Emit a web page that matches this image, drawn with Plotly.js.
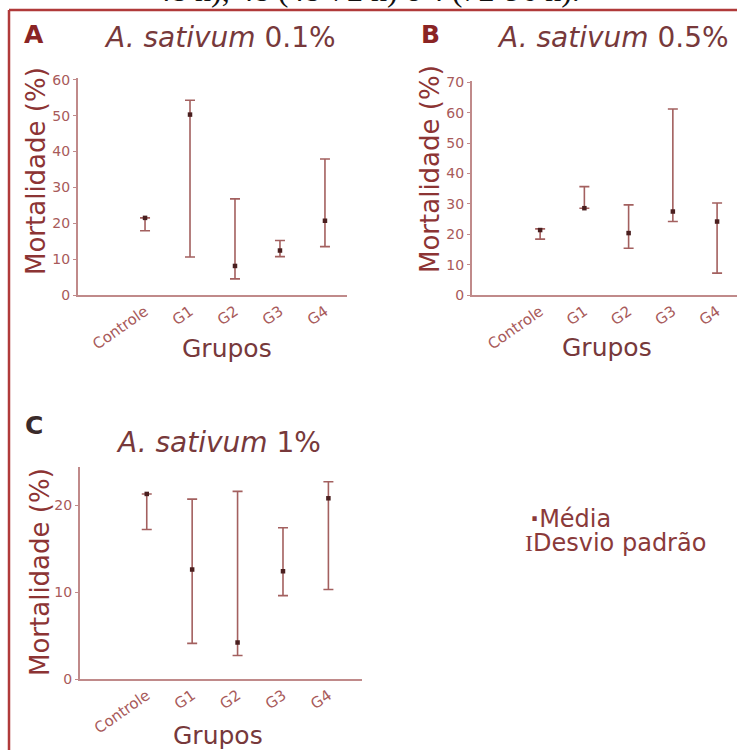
<!DOCTYPE html>
<html>
<head>
<meta charset="utf-8">
<script src="https://cdn.plot.ly/plotly-3.0.1.min.js"></script>
<style>html,body{margin:0;padding:0;background:#fff;}#chart{width:737px;height:750px;}</style>
</head>
<body>
<div id="chart"></div>
<script>
// Data
const categories = ['Controle', 'G1', 'G2', 'G3', 'G4'];

const meanA  = [21.5, 50.3, 8.1, 12.4, 20.7];
const upperA = [21.5, 54.3, 26.8, 15.2, 37.9];
const lowerA = [17.9, 10.6, 4.5, 10.7, 13.5];

const meanB  = [21.4, 28.6, 20.4, 27.5, 24.2];
const upperB = [21.8, 35.7, 29.7, 61.3, 30.3];
const lowerB = [18.4, 28.6, 15.4, 24.2, 7.2];

const meanC  = [21.3, 12.6, 4.2, 12.4, 20.8];
const upperC = [21.3, 20.7, 21.6, 17.4, 22.7];
const lowerC = [17.2, 4.1, 2.7, 9.6, 10.3];

const tickValsA = [0, 10, 20, 30, 40, 50, 60];
const tickValsB = [0, 10, 20, 30, 40, 50, 60, 70];
const tickValsC = [0, 10, 20];

const W = 737, H = 750;
const px = v => v / W;
const py = v => 1 - v / H;

const FONT = 'DejaVu Sans, Verdana, sans-serif';
const barColor = '#a3605f';
const dotColor = '#4a1f1f';
const axisColor = '#c08a8a';
const tickColor = '#a85a5a';
const titleColor = '#77393b';
const axTitleColor = '#8c3434';

function trace(mean, upper, lower, xa, ya) {
  return {
    type: 'scatter', mode: 'markers',
    x: categories, y: mean, xaxis: xa, yaxis: ya,
    marker: {symbol: 'square', size: 4.5, color: dotColor},
    error_y: {
      type: 'data', symmetric: false,
      array: upper.map((u, i) => u - mean[i]),
      arrayminus: lower.map((l, i) => mean[i] - l),
      color: barColor, thickness: 1.6, width: 5
    },
    showlegend: false, hoverinfo: 'skip'
  };
}

function xax(domain, range) {
  return {
    domain: domain, range: range, type: 'category',
    showline: true, linecolor: axisColor, linewidth: 2,
    showgrid: false, zeroline: false, ticks: '',
    tickangle: -35, tickfont: {family: FONT, size: 15, color: tickColor},
    fixedrange: true
  };
}
function yax(domain, range, tv, anchor) {
  return {
    domain: domain, range: range, anchor: anchor,
    tickvals: tv, ticktext: tv.map(String),
    showline: true, linecolor: axisColor, linewidth: 2,
    showgrid: false, zeroline: false,
    ticks: 'outside', ticklen: 3, tickcolor: axisColor,
    tickfont: {family: FONT, size: 14, color: tickColor},
    fixedrange: true
  };
}

const data = [
  trace(meanA, upperA, lowerA, 'x', 'y'),
  trace(meanB, upperB, lowerB, 'x2', 'y2'),
  trace(meanC, upperC, lowerC, 'x3', 'y3')
];

function ann(text, x, y, opts) {
  return Object.assign({
    text: text, x: px(x), y: py(y), xref: 'paper', yref: 'paper',
    showarrow: false, xanchor: 'center', yanchor: 'middle',
    font: {family: FONT, size: 25, color: titleColor}
  }, opts || {});
}

const annotations = [
  ann('48 h), 48 (48-72 h) e 4 (72-96 h).', 367, 10, {yanchor: 'bottom', font: {family: 'Liberation Serif, serif', size: 32, color: '#111'}}),
  ann('<b>A</b>', 34, 35, {font: {family: FONT, size: 25, color: '#8a2424'}}),
  ann('<b>B</b>', 430, 35, {font: {family: FONT, size: 25, color: '#8a2424'}}),
  ann('<b>C</b>', 34, 425, {font: {family: FONT, size: 25, color: '#3a2a2a'}}),
  ann('<i>A. sativum</i> 0.1%', 220, 38, {font: {family: FONT, size: 28, color: titleColor}}),
  ann('<i>A. sativum</i> 0.5%', 613, 38, {font: {family: FONT, size: 28, color: titleColor}}),
  ann('<i>A. sativum</i> 1%', 218, 442, {font: {family: FONT, size: 28, color: titleColor}}),
  ann('Mortalidade (%)', 36, 171, {textangle: -90, font: {family: FONT, size: 26, color: axTitleColor}}),
  ann('Mortalidade (%)', 430, 169, {textangle: -90, font: {family: FONT, size: 26, color: axTitleColor}}),
  ann('Mortalidade (%)', 40, 572, {textangle: -90, font: {family: FONT, size: 26, color: axTitleColor}}),
  ann('Grupos', 227, 348, {font: {family: FONT, size: 25, color: titleColor}}),
  ann('Grupos', 607, 347, {font: {family: FONT, size: 25, color: titleColor}}),
  ann('Grupos', 218, 735, {font: {family: FONT, size: 25, color: titleColor}}),
  ann('<b>\u00b7</b>Média', 528, 519, {xanchor: 'left', font: {family: FONT, size: 24, color: '#8a3a3a'}}),
  ann('<span style="font-family:Liberation Serif">I</span>Desvio padrão', 523, 543, {xanchor: 'left', font: {family: FONT, size: 24, color: '#8a3a3a'}})
];

const frameColor = '#b03a3a';
const shapes = [
  {type: 'line', xref: 'paper', yref: 'paper', x0: px(9), x1: 1, y0: py(10), y1: py(10), line: {color: frameColor, width: 2.5}},
  {type: 'line', xref: 'paper', yref: 'paper', x0: px(9), x1: px(9), y0: py(10), y1: 0, line: {color: frameColor, width: 2.5}}
];

const layout = {
  width: W, height: H,
  margin: {l: 0, r: 0, t: 0, b: 0},
  paper_bgcolor: '#ffffff', plot_bgcolor: '#ffffff',
  showlegend: false,
  xaxis: Object.assign(xax([px(78), px(347)], [-1.49, 4.49]), {anchor: 'y'}),
  yaxis: yax([py(295), py(78)], [0, 60.5], tickValsA, 'x'),
  xaxis2: Object.assign(xax([px(472), 1], [-1.54, 4.45]), {anchor: 'y2'}),
  yaxis2: yax([py(295), py(81)], [0, 70.5], tickValsB, 'x2'),
  xaxis3: Object.assign(xax([px(80), px(362)], [-1.47, 4.74]), {anchor: 'y3'}),
  yaxis3: yax([py(679), py(467)], [0, 24.4], tickValsC, 'x3'),
  annotations: annotations,
  shapes: shapes
};

Plotly.newPlot('chart', data, layout, {displayModeBar: false, staticPlot: true});
</script>
</body>
</html>
